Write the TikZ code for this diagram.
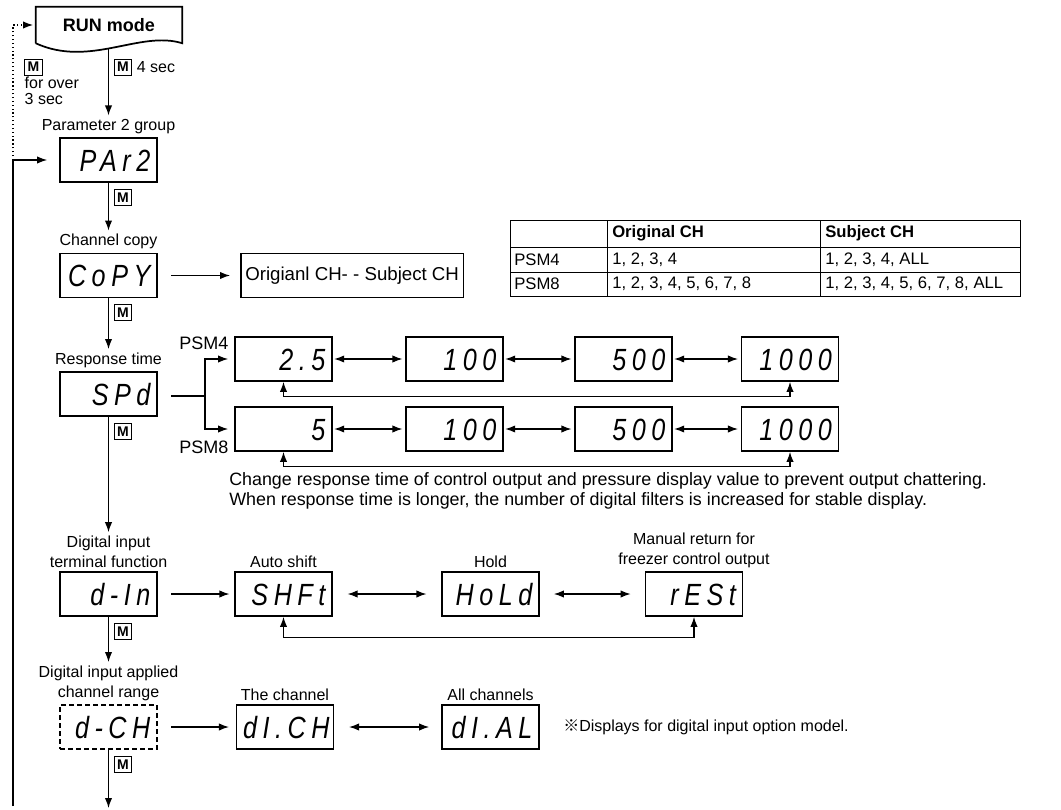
\documentclass[tikz,border=0pt]{standalone}
\usepackage{fontspec}
\setmainfont{Liberation Sans}
\newfontfamily\segfont[LetterSpace=18,FakeStretch=0.82]{Liberation Sans}
\newfontfamily\markfont{Noto Sans CJK JP}
\usetikzlibrary{arrows.meta, positioning}
\tikzset{
	every node/.style={
		font=\fontsize{12}{15}\selectfont
	},
	display/.style={
		shape=rectangle,
		draw,
		line width=1.3pt,
		minimum width=72.75pt,
		minimum height=33pt,
		text width=62.75pt,
		inner xsep=5pt,
		inner ysep=0pt,
		align=right,
		text height=16.5pt,
		text depth=0pt,
		font=\fontsize{23}{23}\selectfont\segfont\itshape
	},
	caption/.style={
		inner sep=2.5pt,
		align=center
	},
	keybox/.style={
		shape=rectangle,
		draw,
		line width=0.6pt,
		minimum width=13pt,
		minimum height=12pt,
		inner sep=0pt,
		font=\fontsize{10.5}{10}\selectfont\bfseries
	},
	flow/.style={
		line width=0.9pt,
		-{Latex[length=7.5pt,width=5.5pt]}
	},
	twoway/.style={
		line width=0.9pt,
		{Latex[length=7.5pt,width=5.5pt]}-{Latex[length=7.5pt,width=5.5pt]}
	},
	cell/.style={
		anchor=west,
		inner sep=0pt,
		font=\fontsize{12.5}{15}\selectfont
	}
}

\begin{document}
\begin{tikzpicture}[x=0.75pt,y=-0.75pt]
	\useasboundingbox (0,0) rectangle (1061,810);
	
	\node[minimum width=109.5pt, minimum height=27pt, font=\fontsize{13.5}{15}\selectfont\bfseries] (run) at (109,25) {RUN mode};
	\draw[line width=1.3pt] (run.south west) -- (run.north west) -- (run.north east) -- (run.south east) .. controls (140,30) and (90,68) .. (run.south west);
	
	\node[display] (par2) at (108.5,160) {PAr2};
	\node[display] (copy) at (108.5,275.5) {CoPY};
	\node[display] (spd) at (108.5,394) {SPd};
	\node[display] (din) at (108.5,594) {d-In};
	\node[display, dash pattern=on 3.5pt off 2.5pt] (dch) at (108.5,727) {d-CH};
	
	\node[caption, above=0pt of par2] (par2lab) {Parameter 2 group};
	\node[caption, above=0pt of copy] (copylab) {Channel copy};
	\node[caption, above=0pt of spd] (spdlab) {Response time};
	\node[caption, above=0pt of din] (dinlab) {Digital input\\terminal function};
	\node[caption, above=0pt of dch] (dchlab) {Digital input applied\\channel range};
	
	\node[keybox] (runkey) at (123,67) {M};
	\node[right=0pt of runkey] (runtime) {4 sec};
	\node[keybox] (backkey) at (33.5,67) {M};
	\node[below right=1pt and 0pt of backkey.south west, inner sep=0pt, align=left, font=\fontsize{12}{12}\selectfont] (backtime) {for over\\3 sec};
	\foreach \disp in {par2,copy,spd,din,dch} {
		\node[keybox, below right=4.5pt and 4pt of \disp.south] (\disp-key) {M};
	}
	
	\coordinate (runtail) at (108.5,49);
	\coordinate (exit) at (108.5,808);
	\draw[flow] (runtail) -- (par2lab);
	\draw[flow] (par2) -- (copylab);
	\draw[flow] (copy) -- (spdlab);
	\draw[flow] (spd) -- (dinlab);
	\draw[flow] (din) -- (dchlab);
	\draw[flow] (dch) -- (exit);
	
	\coordinate (loopend) at (13,806);
	\coordinate (loopturn) at (13,160);
	\draw[flow, shorten >=9pt] (loopend) |- (par2.west);
	\draw[flow, dotted, shorten >=2pt] (loopturn) |- (run.west);
	
	\node[draw, line width=1.3pt, minimum height=33pt, anchor=west, font=\fontsize{14}{15}\selectfont] (chpair) at (240,275.5) {Origianl CH- - Subject CH};
	\draw[flow, shorten <=10pt, shorten >=7.5pt] (copy) -- (chpair);
	
	\draw[line width=0.75pt] (510,220) rectangle (1020,296) (510,247) -- (1020,247) (510,272) -- (1020,272) (607,220) -- (607,296) (820,220) -- (820,296);
	\node[cell, font=\fontsize{12.5}{15}\selectfont\bfseries] (orighead) at (612,233.5) {Original CH};
	\node[cell, font=\fontsize{12.5}{15}\selectfont\bfseries] (subjhead) at (825,233.5) {Subject CH};
	\node[cell] (fourname) at (514,259.5) {PSM4};
	\node[cell] (fourorig) at (612,259.5) {1, 2, 3, 4};
	\node[cell] (foursubj) at (825,259.5) {1, 2, 3, 4, ALL};
	\node[cell] (eightname) at (514,284) {PSM8};
	\node[cell] (eightorig) at (612,284) {1, 2, 3, 4, 5, 6, 7, 8};
	\node[cell] (eightsubj) at (825,284) {1, 2, 3, 4, 5, 6, 7, 8, ALL};
	
	\foreach \v/\x [count=\i] in {2.5/283.5,100/454.5,500/623.5,1000/790} {
		\node[display] (psmfour\i) at (\x,359) {\v};
	}
	\foreach \v/\x [count=\i] in {5/283.5,100/454.5,500/623.5,1000/790} {
		\node[display] (psmeight\i) at (\x,429) {\v};
	}
	\foreach \i in {1,2,3} {
		\pgfmathtruncatemacro\j{\i+1}
		\draw[twoway, shorten <=1pt, shorten >=2pt] (psmfour\i) -- (psmfour\j);
		\draw[twoway, shorten <=1pt, shorten >=2pt] (psmeight\i) -- (psmeight\j);
	}
	\draw[twoway] (psmfour1.south) -- ++(0,15) -| (psmfour4.south);
	\draw[twoway] (psmeight1.south) -- ++(0,15) -| (psmeight4.south);
	\coordinate (fork) at (205,396);
	\draw[line width=0.9pt, shorten <=10pt] (spd.east |- fork) -- (fork);
	\draw[flow, shorten >=4.5pt] (fork) |- (psmfour1.west);
	\draw[flow, shorten >=4.5pt] (fork) |- (psmeight1.west);
	\node[anchor=east, font=\fontsize{13.5}{15}\selectfont] (psmfourlab) at (233,343) {PSM4};
	\node[anchor=east, font=\fontsize{13.5}{15}\selectfont] (psmeightlab) at (233,447) {PSM8};
	\node[anchor=north west, inner sep=0pt, align=left, font=\fontsize{13.4}{15}\selectfont] (spdnote) at (229,472) {Change response time of control output and pressure display value to prevent output chattering.\\When response time is longer, the number of digital filters is increased for stable display.};
	
	\node[display] (shft) at (283.5,594) {SHFt};
	\node[display] (hold) at (490.5,594) {HoLd};
	\node[display] (rest) at (694,594) {rESt};
	\node[caption, above=0pt of shft] (shftlab) {Auto shift};
	\node[caption, above=0pt of hold] (holdlab) {Hold};
	\node[caption, above=0pt of rest] (restlab) {Manual return for\\freezer control output};
	\draw[flow, shorten <=10pt, shorten >=3.5pt] (din) -- (shft);
	\draw[twoway, shorten <=11pt, shorten >=11pt] (shft) -- (hold);
	\draw[twoway, shorten <=10.5pt, shorten >=10.5pt] (hold) -- (rest);
	\draw[twoway] (shft.south) -- ++(0,21) -| (rest.south);
	
	\node[display] (dich) at (285,727) {dI.CH};
	\node[display] (dial) at (490.5,727) {dI.AL};
	\node[caption, above=0pt of dich] (dichlab) {The channel};
	\node[caption, above=0pt of dial] (diallab) {All channels};
	\draw[flow, shorten <=10pt, shorten >=5pt] (dch) -- (dich);
	\draw[twoway, shorten <=11pt, shorten >=9pt] (dich) -- (dial);
	\node[anchor=west, inner sep=0pt] (optnote) at (563,727) {{\markfont ※}Displays for digital input option model.};
\end{tikzpicture}
\end{document}
